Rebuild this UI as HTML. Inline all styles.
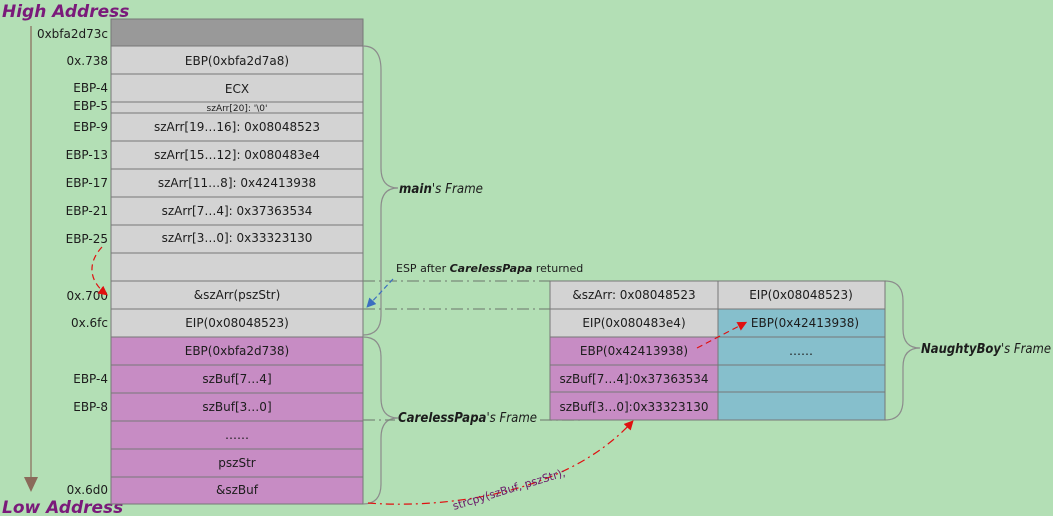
<!DOCTYPE html>
<html><head><meta charset="utf-8"><style>
html,body{margin:0;padding:0;background:#b3dfb5;}
svg{display:block;}
text{font-family:"DejaVu Sans","Liberation Sans",sans-serif;font-size:12px;fill:#1c1c1c;}
.c{text-anchor:middle;}
.r{text-anchor:end;}
</style></head><body>
<svg width="1053" height="516" viewBox="0 0 1053 516" xmlns="http://www.w3.org/2000/svg">
<rect width="1053" height="516" fill="#b3dfb5"/>
<defs>
<marker id="ar" markerWidth="8" markerHeight="8" refX="6" refY="4" orient="auto"><path d="M0,0 L8,4 L0,8 z" fill="#e01010"/></marker>
<marker id="ab" markerWidth="8" markerHeight="8" refX="6" refY="4" orient="auto"><path d="M0,0 L8,4 L0,8 z" fill="#3b6fc0"/></marker>
</defs>
<line x1="31" y1="26" x2="31" y2="480" stroke="#8a6a5a" stroke-width="1.2"/>
<path d="M24,477 L38,477 L31,492 z" fill="#8a6a5a"/>
<text x="2" y="17" style="font-size:17px;font-weight:bold;font-style:italic;fill:#7a1a7a">High Address</text>
<text x="2" y="513" style="font-size:17px;font-weight:bold;font-style:italic;fill:#7a1a7a">Low Address</text>

<g stroke="#777" stroke-width="1">
<rect x="111" y="19" width="252" height="27" fill="#999"/>
<rect x="111" y="46" width="252" height="28" fill="#d3d3d3"/>
<rect x="111" y="74" width="252" height="28" fill="#d3d3d3"/>
<rect x="111" y="102" width="252" height="11" fill="#d3d3d3"/>
<rect x="111" y="113" width="252" height="28" fill="#d3d3d3"/>
<rect x="111" y="141" width="252" height="28" fill="#d3d3d3"/>
<rect x="111" y="169" width="252" height="28" fill="#d3d3d3"/>
<rect x="111" y="197" width="252" height="28" fill="#d3d3d3"/>
<rect x="111" y="225" width="252" height="28" fill="#d3d3d3"/>
<rect x="111" y="253" width="252" height="28" fill="#d3d3d3"/>
<rect x="111" y="281" width="252" height="28" fill="#d3d3d3"/>
<rect x="111" y="309" width="252" height="28" fill="#d3d3d3"/>
<rect x="111" y="337" width="252" height="28" fill="#c78cc4"/>
<rect x="111" y="365" width="252" height="28" fill="#c78cc4"/>
<rect x="111" y="393" width="252" height="28" fill="#c78cc4"/>
<rect x="111" y="421" width="252" height="28" fill="#c78cc4"/>
<rect x="111" y="449" width="252" height="28" fill="#c78cc4"/>
<rect x="111" y="477" width="252" height="27" fill="#c78cc4"/>
</g>
<text class="c" x="237" y="65">EBP(0xbfa2d7a8)</text>
<text class="c" x="237" y="93">ECX</text>
<text class="c" x="237" y="111" style="font-size:9px">szArr[20]: '\0'</text>
<text class="c" x="237" y="131">szArr[19…16]: 0x08048523</text>
<text class="c" x="237" y="159">szArr[15…12]: 0x080483e4</text>
<text class="c" x="237" y="187">szArr[11…8]: 0x42413938</text>
<text class="c" x="237" y="215">szArr[7…4]: 0x37363534</text>
<text class="c" x="237" y="242">szArr[3…0]: 0x33323130</text>
<text class="c" x="237" y="299">&amp;szArr(pszStr)</text>
<text class="c" x="237" y="327">EIP(0x08048523)</text>
<text class="c" x="237" y="355">EBP(0xbfa2d738)</text>
<text class="c" x="237" y="383">szBuf[7…4]</text>
<text class="c" x="237" y="411">szBuf[3…0]</text>
<text class="c" x="237" y="439">……</text>
<text class="c" x="237" y="467">pszStr</text>
<text class="c" x="237" y="494">&amp;szBuf</text>

<text class="r" x="108" y="38">0xbfa2d73c</text>
<text class="r" x="108" y="65">0x.738</text>
<text class="r" x="108" y="92">EBP-4</text>
<text class="r" x="108" y="110">EBP-5</text>
<text class="r" x="108" y="131">EBP-9</text>
<text class="r" x="108" y="159">EBP-13</text>
<text class="r" x="108" y="187">EBP-17</text>
<text class="r" x="108" y="215">EBP-21</text>
<text class="r" x="108" y="243">EBP-25</text>
<text class="r" x="108" y="300">0x.700</text>
<text class="r" x="108" y="327">0x.6fc</text>
<text class="r" x="108" y="383">EBP-4</text>
<text class="r" x="108" y="411">EBP-8</text>
<text class="r" x="108" y="494">0x.6d0</text>

<path d="M102,247 C88,262 88,280 106,294" fill="none" stroke="#e01010" stroke-width="1.2" stroke-dasharray="6,4" marker-end="url(#ar)"/>

<g fill="none" stroke="#8c8c8c" stroke-width="1.2">
<path d="M363,46 Q381,46 381,70 L381,168 Q381,188 398,188 Q381,188 381,208 L381,315 Q381,335 363,335"/>
<path d="M363,337 Q381,337 381,357 L381,398 Q381,418 398,418 Q381,418 381,438 L381,484 Q381,504 363,504"/>
<path d="M885,281 Q903,281 903,301 L903,329 Q903,348 920,348 Q903,348 903,367 L903,400 Q903,420 885,420"/>
</g>
<text x="399" y="193" textLength="84" lengthAdjust="spacingAndGlyphs" style="font-size:13px;font-style:italic"><tspan style="font-weight:bold">main</tspan>'s Frame</text>
<text x="398" y="422" textLength="139" lengthAdjust="spacingAndGlyphs" style="font-size:13px;font-style:italic"><tspan style="font-weight:bold">CarelessPapa</tspan>'s Frame</text>
<text x="921" y="353" textLength="130" lengthAdjust="spacingAndGlyphs" style="font-size:13px;font-style:italic"><tspan style="font-weight:bold">NaughtyBoy</tspan>'s Frame</text>

<g stroke="#7a8a7a" stroke-width="1.2" stroke-dasharray="12,4,2,4" fill="none">
<line x1="363" y1="281" x2="550" y2="281"/>
<line x1="363" y1="309" x2="550" y2="309"/>
<line x1="363" y1="420" x2="395" y2="420"/>
<line x1="540" y1="420" x2="580" y2="420"/>
</g>
<text x="396" y="272" style="font-size:11px">ESP after <tspan style="font-weight:bold;font-style:italic">CarelessPapa</tspan> returned</text>
<path d="M393,279 L368,306" fill="none" stroke="#3b6fc0" stroke-width="1.2" stroke-dasharray="5,3" marker-end="url(#ab)"/>

<g stroke="#777" stroke-width="1">
<rect x="550" y="281" width="168" height="28" fill="#d3d3d3"/>
<rect x="718" y="281" width="167" height="28" fill="#d3d3d3"/>
<rect x="550" y="309" width="168" height="28" fill="#d3d3d3"/>
<rect x="718" y="309" width="167" height="28" fill="#86bfcc"/>
<rect x="550" y="337" width="168" height="28" fill="#c78cc4"/>
<rect x="718" y="337" width="167" height="28" fill="#86bfcc"/>
<rect x="550" y="365" width="168" height="27" fill="#c78cc4"/>
<rect x="718" y="365" width="167" height="27" fill="#86bfcc"/>
<rect x="550" y="392" width="168" height="28" fill="#c78cc4"/>
<rect x="718" y="392" width="167" height="28" fill="#86bfcc"/>
</g>
<text class="c" x="634" y="299">&amp;szArr: 0x08048523</text>
<text class="c" x="801" y="299">EIP(0x08048523)</text>
<text class="c" x="634" y="327">EIP(0x080483e4)</text>
<text class="c" x="805" y="327">EBP(0x42413938)</text>
<text class="c" x="634" y="355">EBP(0x42413938)</text>
<text class="c" x="801" y="355">……</text>
<text class="c" x="634" y="383">szBuf[7…4]:0x37363534</text>
<text class="c" x="634" y="411">szBuf[3…0]:0x33323130</text>
<path d="M697,348 L745,323" fill="none" stroke="#e01010" stroke-width="1.2" stroke-dasharray="6,4" marker-end="url(#ar)"/>

<path d="M368,503 C430,508 560,500 632,422" fill="none" stroke="#e01010" stroke-width="1.2" stroke-dasharray="8,4,2,4" marker-end="url(#ar)"/>
<text x="454" y="510" transform="rotate(-17 454 510)" style="font-size:11px;fill:#6a1a6a">strcpy(szBuf, pszStr);</text>
</svg>
</body></html>
